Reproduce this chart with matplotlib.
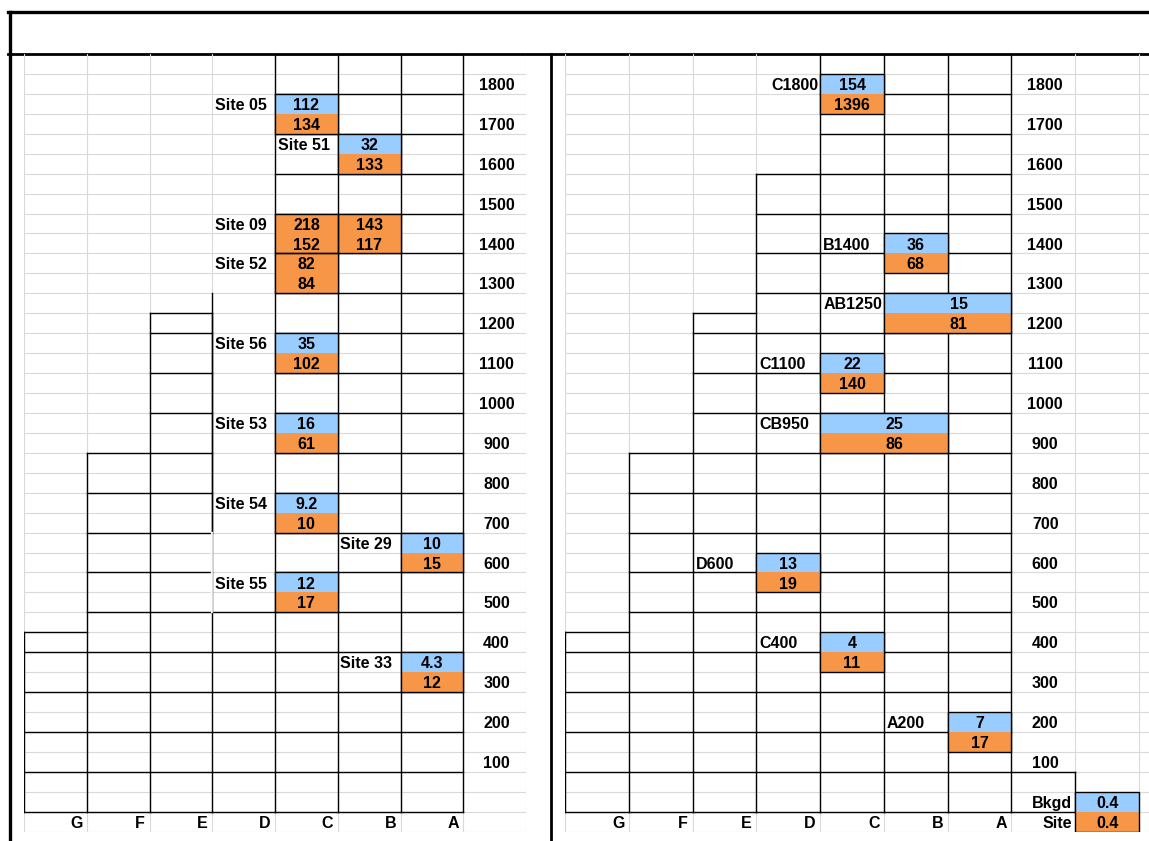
import matplotlib.pyplot as plt
from matplotlib.patches import Rectangle

plt.rcParams['font.family'] = ['Liberation Sans', 'DejaVu Sans']

BLUE = '#99ccff'
ORANGE = '#f79646'
GRID = '#d9d9d9'
FS = 11.5
TY = 0.58  # vertical text position inside a row

col_letters = ['G', 'F', 'E', 'D', 'C', 'B', 'A']
elev_labels = [1800, 1700, 1600, 1500, 1400, 1300, 1200, 1100, 1000,
               900, 800, 700, 600, 500, 400, 300, 200, 100]

# first bordered row of each column (terrain profile), G..A (+ extra col)
left_top = [29, 20, 13, 28, 0, 0, 0]
right_top = [29, 20, 13, 6, 0, 0, 0, 36]

# sites: label, first column, number of columns, elevation, upper value, lower value, upper is blue
left_names = ['Site 05', 'Site 51', 'Site 09', '', 'Site 52', 'Site 56',
              'Site 53', 'Site 54', 'Site 29', 'Site 55', 'Site 33']
left_cols = ['C', 'B', 'C', 'B', 'C', 'C', 'C', 'C', 'A', 'C', 'A']
left_span = [1, 1, 1, 1, 1, 1, 1, 1, 1, 1, 1]
left_elev = [1750, 1650, 1450, 1450, 1350, 1150, 950, 750, 650, 550, 350]
left_up = ['112', '32', '218', '143', '82', '35', '16', '9.2', '10', '12', '4.3']
left_lo = ['134', '133', '152', '117', '84', '102', '61', '10', '15', '17', '12']
left_blue = [True, True, False, False, False, True, True, True, True, True, True]

right_names = ['C1800', 'B1400', 'AB1250', 'C1100', 'CB950', 'D600', 'C400', 'A200']
right_cols = ['C', 'B', 'B', 'C', 'C', 'D', 'C', 'A']
right_span = [1, 1, 2, 1, 2, 1, 1, 1]
right_elev = [1800, 1400, 1250, 1100, 950, 600, 400, 200]
right_up = ['154', '36', '15', '22', '25', '13', '4', '7']
right_lo = ['1396', '68', '81', '140', '86', '19', '11', '17']
right_name_align = ['right', 'left', 'left', 'left', 'left', 'left', 'left', 'left']

bkgd_up = '0.4'
bkgd_lo = '0.4'

NROWS = 39
BOTTOM = 38


def elev_row(e):
    return 1 + (1800 - e) / 50


fig = plt.figure(figsize=(11.49, 8.41), dpi=100)
W, H = 1149, 841

# frame
frame = fig.add_axes([0, 0, 1, 1])
frame.set_xlim(0, W)
frame.set_ylim(H, 0)
frame.axis('off')
frame.plot([8, W], [12, 12], color='black', lw=2.4)
frame.plot([10, 10], [12, H], color='black', lw=2.4)
frame.plot([8, W], [54, 54], color='black', lw=2.0)
frame.plot([551, 551], [54, H], color='black', lw=2.0)

y0, y1 = 54, 831.7
axL = fig.add_axes([24 / W, (H - y1) / H, 502 / W, (y1 - y0) / H])
axR = fig.add_axes([565 / W, (H - y1) / H, (W - 565) / W, (y1 - y0) / H])
ncolR = 9 * (W - 565) / 574.0

for ax, ncol, xmax in [(axL, 8, 8), (axR, 9, ncolR)]:
    ax.set_xlim(0, xmax)
    ax.set_ylim(NROWS, 0)
    ax.axis('off')
    for r in range(1, NROWS + 1):
        ax.plot([0, xmax], [r, r], color=GRID, lw=0.8, zorder=1)
    for c in range(ncol + 1):
        ax.plot([c, c], [0, NROWS], color=GRID, lw=0.8, zorder=1)


def draw_blocks(ax, tops):
    for ci, top in enumerate(tops):
        rows = [top] + [r for r in range(top + 1, BOTTOM + 1) if r % 2 == 0]
        for r in rows:
            ax.plot([ci, ci + 1], [r, r], color='black', lw=1.0, zorder=3,
                    solid_capstyle='projecting')
    for ci in range(len(tops) + 1):
        t = [tops[k] for k in (ci - 1, ci) if 0 <= k < len(tops)]
        ax.plot([ci, ci], [min(t), BOTTOM], color='black', lw=1.0, zorder=3)


def label(ax, x, y, s, ha='center'):
    ax.text(x, y, s, ha=ha, va='center', fontsize=FS, fontweight='bold', zorder=6)


def draw_pair(ax, c0, span, row, up, lo, up_col, lo_col, dx=0.0):
    ax.add_patch(Rectangle((c0, row), span, 1, fc=up_col, ec='none', zorder=4))
    ax.add_patch(Rectangle((c0, row + 1), span, 1, fc=lo_col, ec='none', zorder=4))
    ax.add_patch(Rectangle((c0, row), span, 2, fc='none', ec='black', lw=1.0, zorder=5))
    xc = c0 + span / 2 + dx
    label(ax, xc, row + TY, up)
    label(ax, xc, row + 1 + TY, lo)


# left panel
draw_blocks(axL, left_top)
# open column D on the left panel: only its left edge down to site 29
axL.plot([3, 3], [12, 24], color='black', lw=1.0, zorder=3)
axL.plot([3, 3], [24, 28], color='white', lw=1.6, zorder=3.5)
axL.plot([3, 3], [24, 28], color=GRID, lw=0.8, zorder=3.6)

for i, name in enumerate(left_names):
    c0 = col_letters.index(left_cols[i])
    row = elev_row(left_elev[i])
    up_col = BLUE if left_blue[i] else ORANGE
    draw_pair(axL, c0, left_span[i], row, left_up[i], left_lo[i], up_col, ORANGE)
    if name:
        label(axL, c0 - 1 + 0.04, row + TY, name, ha='left')

# right panel
draw_blocks(axR, right_top)
for i, name in enumerate(right_names):
    c0 = col_letters.index(right_cols[i])
    row = elev_row(right_elev[i])
    dx = 0.17 if right_span[i] > 1 else 0.0
    draw_pair(axR, c0, right_span[i], row, right_up[i], right_lo[i], BLUE, ORANGE, dx)
    if right_name_align[i] == 'right':
        label(axR, c0 - 0.03, row + TY, name, ha='right')
    else:
        label(axR, c0 - 1 + 0.05, row + TY, name, ha='left')

draw_pair(axR, 8, 1, elev_row(0), bkgd_up, bkgd_lo, BLUE, ORANGE)
label(axR, 8 - 0.05, elev_row(0) + TY, 'Bkgd', ha='right')
label(axR, 8 - 0.05, elev_row(0) + 1 + TY, 'Site', ha='right')

# axis labels: elevations and column letters
for ax in (axL, axR):
    for e in elev_labels:
        label(ax, 7.53, elev_row(e) + TY, str(e))
    for ci, letter in enumerate(col_letters):
        label(ax, ci + 1 - 0.07, BOTTOM + TY, letter, ha='right')

fig.savefig('out.png', dpi=100)
